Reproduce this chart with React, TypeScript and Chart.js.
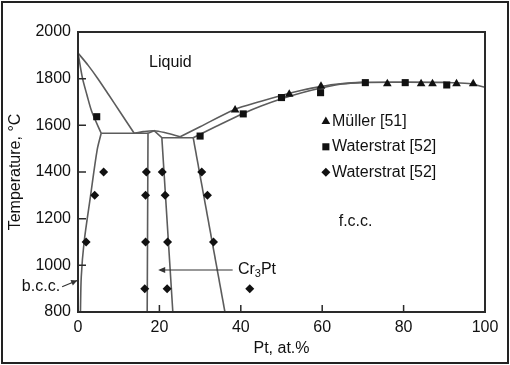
import React, { useEffect, useRef } from 'react';
import { Chart, registerables } from 'chart.js';

Chart.register(...registerables);

const FONT = '"Liberation Sans", Arial, Helvetica, sans-serif';
const LINE = '#5c5c5c';
const INK = '#111111';

// axis ticks
const xTicks = [0, 20, 40, 60, 80, 100];
const yTicks = [800, 1000, 1200, 1400, 1600, 1800, 2000];

// phase boundaries (Pt at.% , temperature °C)
const liquidusLeftX = [0, 2.5, 4.8, 7.5, 10.3, 13.8];
const liquidusLeftT = [1910, 1857, 1802, 1732, 1658, 1566];
const domeX = [13.8, 16, 18.7, 21.5, 25.1];
const domeT = [1566, 1573, 1577, 1568, 1551];
const solidusLeftX = [0, 1.1, 2.2, 3.4, 5.7];
const solidusLeftT = [1910, 1802, 1730, 1658, 1566];
const bccSolvusX = [5.7, 4.7, 3.1, 1.5, 0.8, 0.6];
const bccSolvusT = [1566, 1494, 1300, 1100, 950, 800];
const eutecticLeftX = [5.7, 17.2];
const eutecticLeftT = [1566, 1566];
const cr3PtX = [17.0, 17.2, 18.7, 20.6, 23.3];
const cr3PtT = [800, 1566, 1577, 1547, 800];
const eutecticRightX = [20.6, 28.3];
const eutecticRightT = [1547, 1547];
const fccSolvusX = [28.3, 36.1];
const fccSolvusT = [1547, 800];
const liquidusRightX = [25.1, 30, 38.4, 45, 50.4, 55, 59.5, 64.4, 70, 80, 90, 96, 100];
const liquidusRightT = [1551, 1594, 1667, 1703, 1730, 1750, 1766, 1778, 1784, 1785, 1784, 1779, 1763];
const solidusRightX = [28.3, 34, 40.6, 45, 50.4, 55, 59.5, 64.4, 70];
const solidusRightT = [1547, 1596, 1651, 1683, 1716, 1740, 1759, 1776, 1784];

// experimental points
const mullerX = [38.6, 51.9, 59.7, 76.0, 84.3, 87.1, 93.0, 97.1];
const mullerT = [1666, 1733, 1768, 1778, 1778, 1778, 1778, 1778];
const squaresX = [4.6, 30.0, 40.6, 50.0, 59.6, 70.6, 80.4, 90.6];
const squaresT = [1637, 1554, 1649, 1719, 1740, 1783, 1783, 1773];
const diamondsX = [6.3, 4.1, 2.0, 16.8, 20.7, 30.4, 16.6, 21.4, 31.8, 16.6, 22.0, 33.3, 16.4, 21.9, 42.2];
const diamondsT = [1400, 1300, 1100, 1400, 1400, 1400, 1300, 1300, 1300, 1100, 1100, 1100, 900, 900, 900];

const legendLabels = ['Müller [51]', 'Waterstrat [52]', 'Waterstrat [52]'];
const legendT = [1616, 1508, 1399];

const pts = (xs: number[], ys: number[]) => xs.map((v, i) => ({ x: v, y: ys[i] }));

const lineSet = (xs: number[], ys: number[], tension = 0) => ({
  data: pts(xs, ys),
  showLine: true,
  borderColor: LINE,
  borderWidth: 1.6,
  pointRadius: 0,
  tension,
  fill: false,
});

const markerSet = (label: string, xs: number[], ys: number[], style: string, r: number) => ({
  label,
  data: pts(xs, ys),
  showLine: false,
  pointStyle: style,
  pointRadius: r,
  pointBackgroundColor: INK,
  pointBorderColor: INK,
  pointBorderWidth: 0,
});

function drawMarker(ctx: CanvasRenderingContext2D, style: string, x: number, y: number, r: number) {
  ctx.beginPath();
  if (style === 'triangle') {
    ctx.moveTo(x, y - r);
    ctx.lineTo(x + r * 0.866, y + r * 0.5);
    ctx.lineTo(x - r * 0.866, y + r * 0.5);
  } else if (style === 'rect') {
    const s = r * Math.SQRT1_2;
    ctx.rect(x - s, y - s, 2 * s, 2 * s);
  } else {
    ctx.moveTo(x, y - r);
    ctx.lineTo(x + r, y);
    ctx.lineTo(x, y + r);
    ctx.lineTo(x - r, y);
  }
  ctx.closePath();
  ctx.fill();
}

const decor = {
  id: 'decor',
  afterDatasetsDraw(chart: any) {
    const { ctx, chartArea: a, scales } = chart;
    const sx = scales.x;
    const sy = scales.y;
    ctx.save();
    // frame
    ctx.strokeStyle = '#2a2a2a';
    ctx.lineWidth = 2;
    ctx.strokeRect(a.left, a.top, a.right - a.left, a.bottom - a.top);
    // inner ticks
    ctx.lineWidth = 1.5;
    ctx.beginPath();
    xTicks.slice(1, -1).forEach((v) => {
      const px = sx.getPixelForValue(v);
      ctx.moveTo(px, a.bottom);
      ctx.lineTo(px, a.bottom - 7);
    });
    yTicks.slice(1, -1).forEach((v) => {
      const py = sy.getPixelForValue(v);
      ctx.moveTo(a.left, py);
      ctx.lineTo(a.left + 8, py);
    });
    ctx.stroke();

    ctx.fillStyle = INK;
    ctx.font = `16px ${FONT}`;
    ctx.textBaseline = 'middle';
    // region labels
    ctx.textAlign = 'center';
    ctx.fillText('Liquid', sx.getPixelForValue(22.7), sy.getPixelForValue(1871));
    ctx.fillText('f.c.c.', sx.getPixelForValue(68.2), sy.getPixelForValue(1187));

    // Cr3Pt label + arrow
    ctx.textAlign = 'left';
    const ay = sy.getPixelForValue(980);
    const tx = sx.getPixelForValue(39.3);
    ctx.fillText('Cr', tx, ay);
    let w = ctx.measureText('Cr').width;
    ctx.font = `11px ${FONT}`;
    ctx.fillText('3', tx + w, ay + 4);
    w += ctx.measureText('3').width;
    ctx.font = `16px ${FONT}`;
    ctx.fillText('Pt', tx + w, ay);
    const ax0 = sx.getPixelForValue(38);
    const ax1 = sx.getPixelForValue(19.7);
    ctx.strokeStyle = '#333';
    ctx.lineWidth = 1.2;
    ctx.beginPath();
    ctx.moveTo(ax0, ay);
    ctx.lineTo(ax1 + 2, ay);
    ctx.stroke();
    ctx.beginPath();
    ctx.moveTo(ax1, ay);
    ctx.lineTo(ax1 + 7, ay - 3);
    ctx.lineTo(ax1 + 7, ay + 3);
    ctx.closePath();
    ctx.fillStyle = '#333';
    ctx.fill();

    // b.c.c. label + arrow
    ctx.fillStyle = INK;
    ctx.textAlign = 'right';
    const by = sy.getPixelForValue(908);
    ctx.fillText('b.c.c.', sx.getPixelForValue(-4.4), by);
    const bx0 = sx.getPixelForValue(-3.9);
    const bx1 = sx.getPixelForValue(-0.2);
    const by1 = sy.getPixelForValue(935);
    ctx.beginPath();
    ctx.moveTo(bx0, by);
    ctx.lineTo(bx1, by1);
    ctx.stroke();
    const ang = Math.atan2(by1 - by, bx1 - bx0);
    ctx.beginPath();
    ctx.moveTo(bx1, by1);
    ctx.lineTo(bx1 - 6 * Math.cos(ang) + 3 * Math.sin(ang), by1 - 6 * Math.sin(ang) - 3 * Math.cos(ang));
    ctx.lineTo(bx1 - 6 * Math.cos(ang) - 3 * Math.sin(ang), by1 - 6 * Math.sin(ang) + 3 * Math.cos(ang));
    ctx.closePath();
    ctx.fillStyle = '#333';
    ctx.fill();

    // legend
    ctx.fillStyle = INK;
    ctx.textAlign = 'left';
    const styles = ['triangle', 'rect', 'rectRot'];
    const radii = [5, 5, 4.5];
    const mx = sx.getPixelForValue(60.9);
    const lx = sx.getPixelForValue(62.4);
    legendLabels.forEach((lab, i) => {
      const py = sy.getPixelForValue(legendT[i]);
      drawMarker(ctx, styles[i], mx, py, radii[i]);
      ctx.fillText(lab, lx, py);
    });
    ctx.restore();
  },
};

export default function App() {
  const ref = useRef<HTMLCanvasElement | null>(null);
  useEffect(() => {
    if (!ref.current) return;
    const chart = new Chart(ref.current, {
      type: 'scatter',
      data: {
        datasets: [
          markerSet(legendLabels[0], mullerX, mullerT, 'triangle', 5),
          markerSet(legendLabels[1], squaresX, squaresT, 'rect', 5),
          markerSet(legendLabels[2], diamondsX, diamondsT, 'rectRot', 4.5),
          lineSet(liquidusLeftX, liquidusLeftT, 0.3),
          lineSet(domeX, domeT, 0.3),
          lineSet(solidusLeftX, solidusLeftT, 0.3),
          lineSet(bccSolvusX, bccSolvusT, 0.3),
          lineSet(eutecticLeftX, eutecticLeftT),
          lineSet(cr3PtX, cr3PtT),
          lineSet(eutecticRightX, eutecticRightT),
          lineSet(fccSolvusX, fccSolvusT),
          lineSet(liquidusRightX, liquidusRightT, 0.3),
          lineSet(solidusRightX, solidusRightT, 0.3),
        ] as any,
      },
      options: {
        responsive: false,
        animation: false,
        devicePixelRatio: 1,
        layout: { padding: { left: 0, right: 25, top: 32, bottom: 0 } },
        plugins: { legend: { display: false }, tooltip: { enabled: false } },
        scales: {
          x: {
            type: 'linear',
            min: 0,
            max: 100,
            afterFit: (s: any) => { s.height = 53; },
            afterBuildTicks: (s: any) => { s.ticks = xTicks.map((v) => ({ value: v })); },
            ticks: { font: { size: 16, family: FONT }, color: INK, padding: 6, callback: (v: any) => String(v) },
            grid: { display: false, drawTicks: false },
            border: { display: false },
            title: { display: true, text: 'Pt, at.%', font: { size: 16, family: FONT }, color: INK, padding: { top: 0, bottom: 7 } },
          },
          y: {
            type: 'linear',
            min: 800,
            max: 2000,
            afterFit: (s: any) => { s.width = 78; },
            afterBuildTicks: (s: any) => { s.ticks = yTicks.map((v) => ({ value: v })); },
            ticks: { font: { size: 16, family: FONT }, color: INK, padding: 7, callback: (v: any) => String(v) },
            grid: { display: false, drawTicks: false },
            border: { display: false },
            title: { display: true, text: 'Temperature, °C', font: { size: 16, family: FONT }, color: INK, padding: { top: 6, bottom: 0 } },
          },
        },
      },
      plugins: [decor],
    } as any);
    return () => chart.destroy();
  }, []);
  return (
    <div style={{ position: 'fixed', left: 0, top: 0, width: 510, height: 365, background: '#fff' }}>
      <canvas ref={ref} width={510} height={365} style={{ position: 'absolute', left: 0, top: 0 }} />
      <div
        style={{
          position: 'absolute',
          left: 1,
          top: 1,
          width: 508,
          height: 363,
          border: '2px solid #222',
          boxSizing: 'border-box',
          pointerEvents: 'none',
        }}
      />
    </div>
  );
}
